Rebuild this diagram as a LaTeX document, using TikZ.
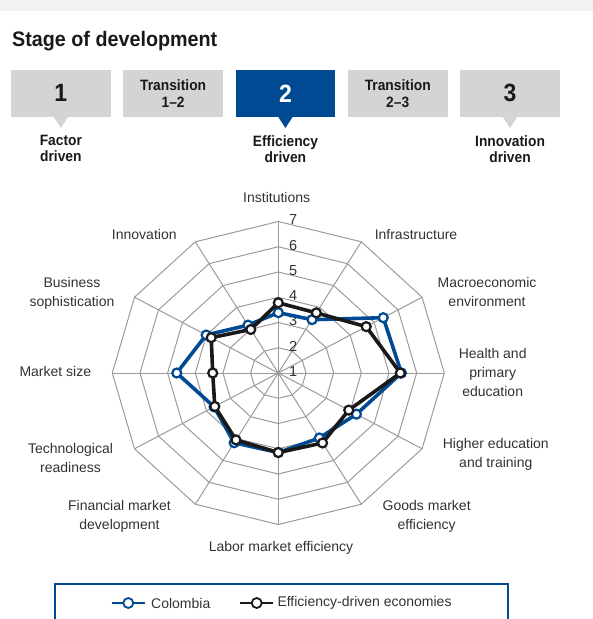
\documentclass[tikz,border=0pt]{standalone}
\usepackage{fontspec}
\setmainfont{Liberation Sans}
\newfontfamily\stagefont[FakeStretch=0.92]{Liberation Sans}
\newfontfamily\titlefont[FakeStretch=0.94]{Liberation Sans}
\usetikzlibrary{positioning}
\definecolor{stagegray}{RGB}{211,212,214}
\definecolor{stageblue}{RGB}{0,74,147}
\definecolor{gridgray}{RGB}{155,155,155}
\definecolor{labelgray}{RGB}{50,50,50}
\newcommand\colombiavalues{3.39,3.44,5.38,5.45,4.26,3.97,4.15,4.19,3.68,4.67,4.01,3.19}
\newcommand\effvalues{3.78,3.75,4.67,5.41,3.94,4.20,4.15,4.06,3.65,3.37,3.80,2.99}
\tikzstyle{stage}=[rectangle,fill=stagegray,minimum width=99.5,minimum height=47,inner sep=0,align=center,text=black!90,font=\stagefont\bfseries\fontsize{15}{17.3}\selectfont]
\tikzstyle{stagenum}=[stage,font=\stagefont\bfseries\fontsize{25}{28}\selectfont]
\tikzstyle{stagedriven}=[align=center,inner sep=0,text=black!90,font=\stagefont\bfseries\fontsize{15}{16}\selectfont]
\tikzstyle{axislabel}=[align=center,inner sep=0,text=labelgray,font=\fontsize{14}{19}\selectfont]
\tikzstyle{ringnum}=[inner sep=0,text=labelgray,font=\fontsize{14.5}{16}\selectfont]
\tikzstyle{gridline}=[draw=gridgray,line width=1]
\tikzstyle{colline}=[draw=stageblue,line width=3.6,line join=round]
\tikzstyle{effline}=[draw=black!90,line width=3.6,line join=round]
\tikzstyle{colmark}=[circle,draw=stageblue,fill=white,line width=2.2,minimum size=9,inner sep=0]
\tikzstyle{effmark}=[circle,draw=black!90,fill=white,line width=2.2,minimum size=9,inner sep=0]

\begin{document}
\begin{tikzpicture}[x=1pt,y=-1pt]
	\useasboundingbox (0,0) rectangle (593,619);
	\clip (0,0) rectangle (593,619);
	\fill[black!5] (0,0) rectangle (593,11);
	\node[anchor=base west,inner sep=0,text=black!90,font=\titlefont\bfseries\fontsize{21}{24}\selectfont] (title) at (12,46) {Stage of development};
	\begin{scope}
		\node[stagenum] (s1) at (60.85,93.3) {1};
		\node[stage] (t12) [right=12.4pt of s1] {Transition\\1–2};
		\node[stagenum,fill=stageblue,text=white] (s2) [right=12.4pt of t12] {2};
		\node[stage] (t23) [right=12.4pt of s2] {Transition\\2–3};
		\node[stagenum] (s3) [right=12.4pt of t23] {3};
		\foreach \s/\c in {s1/stagegray,s2/stageblue,s3/stagegray}
			\fill[\c] ([xshift=-7.5pt,yshift=0.5pt]\s.south) -- ([xshift=7.5pt,yshift=0.5pt]\s.south) -- ([yshift=-11pt]\s.south) -- cycle;
		\node[stagedriven] (factor) [below=18pt of s1] {Factor\\driven};
		\node[stagedriven] (efficiency) [below=18pt of s2] {Efficiency\\driven};
		\node[stagedriven] (innovation) [below=18pt of s3] {Innovation\\driven};
	\end{scope}
	\begin{scope}[shift={(278.3,373)},x=27.67pt,y=25.25pt]
		\foreach \r in {1,...,6}
			\draw[gridline] (90:\r) \foreach \i in {1,...,11}{ -- (90-30*\i:\r)} -- cycle;
		\foreach \i in {0,...,11}
			\draw[gridline] (0,0) -- (90-30*\i:6);
		\fill[gridgray] (0,0) circle (2.2pt);
		\foreach \v in {1,...,7}
			\node[ringnum] (ring\v) at (0.54,\v-1+0.06) {\v};
		\foreach \v [count=\i from 0] in \colombiavalues {
			\pgfmathsetmacro\rr{\v-1}
			\coordinate (col\i) at (90-30*\i:\rr);
		}
		\foreach \v [count=\i from 0] in \effvalues {
			\pgfmathsetmacro\rr{\v-1}
			\coordinate (eff\i) at (90-30*\i:\rr);
		}
		\draw[colline] (col0) \foreach \i in {1,...,11}{ -- (col\i)} -- cycle;
		\foreach \i in {0,...,11}
			\node[colmark] (colm\i) at (col\i) {};
		\draw[effline] (eff0) \foreach \i in {1,...,11}{ -- (eff\i)} -- cycle;
		\foreach \i in {0,...,11}
			\node[effmark] (effm\i) at (eff\i) {};
	\end{scope}
	\node[axislabel] (institutions) at (276.7,197.3) {Institutions};
	\node[axislabel] (infrastructure) at (416,234.3) {Infrastructure};
	\node[axislabel] (macro) at (487,292) {Macroeconomic\\environment};
	\node[axislabel] (health) at (492.7,372.5) {Health and\\primary\\education};
	\node[axislabel] (higher) at (495.8,454.5) {Higher education\\and training};
	\node[axislabel] (goods) at (426.7,516.8) {Goods market\\efficiency};
	\node[axislabel] (labor) at (281,548.3) {Labor market efficiency};
	\node[axislabel] (financial) at (119.5,516.5) {Financial market\\development};
	\node[axislabel] (tech) at (70.5,457.8) {Technological\\readiness};
	\node[axislabel] (market) at (55.3,371.7) {Market size};
	\node[axislabel] (business) at (72,293.7) {Business\\sophistication};
	\node[axislabel] (innov) at (144.3,234.3) {Innovation};
	% legend
	\node[draw=stageblue,line width=1.5,minimum width=453,minimum height=44,inner sep=0] (legend) at (281.5,606) {};
	\coordinate (colA) at (111.7,603);
	\coordinate (colB) at (145,603);
	\draw[colline,line width=2.2] (colA) -- (colB);
	\node[colmark,minimum size=10,line width=1.8] (colkey) at (128.3,603) {};
	\node[axislabel,anchor=west] (colname) at (151,603) {Colombia};
	\coordinate (effA) at (240,603);
	\coordinate (effB) at (273.3,603);
	\draw[effline,line width=2.2] (effA) -- (effB);
	\node[effmark,minimum size=10,line width=1.8] (effkey) at (256.7,603) {};
	\node[axislabel,anchor=west] (effname) at (277.3,603) {Efficiency-driven economies};
\end{tikzpicture}
\end{document}
